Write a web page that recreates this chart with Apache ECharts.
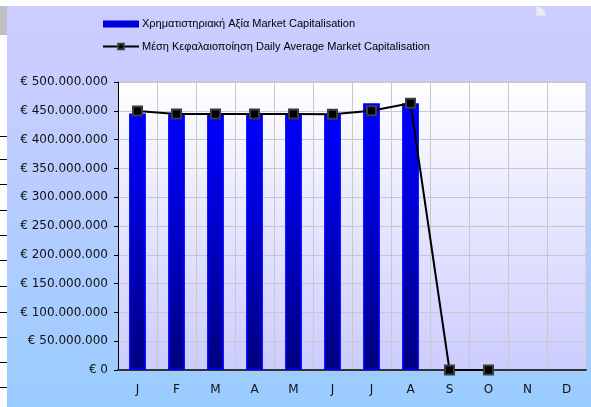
<!DOCTYPE html>
<html>
<head>
<meta charset="utf-8">
<script src="https://cdn.jsdelivr.net/npm/echarts@6/dist/echarts.min.js"></script>
<style>
  html, body { margin: 0; padding: 0; background: #fff; }
  #chart { width: 591px; height: 407px; }
</style>
</head>
<body>
<div id="chart"></div>
<script>
// month initials on the x axis
var months = ['J', 'F', 'M', 'A', 'M', 'J', 'J', 'A', 'S', 'O', 'N', 'D'];
// Χρηματιστηριακή Αξία (end of month), euros
var marketCap = [445500000, 444000000, 444000000, 444000000, 444000000, 443500000,
                 463000000, 463000000, null, null, null, null];
// Μέση Κεφαλαιοποίηση (daily average), euros
var dailyAvg = [449600000, 444400000, 444400000, 444400000, 444400000, 444000000,
                450000000, 463000000, 0, 0, null, null];

var barName = 'Χρηματιστηριακή Αξία Market Capitalisation';
var lineName = 'Μέση Κεφαλαιοποίηση Daily Average Market Capitalisation';

function euro(v) {
  return '€ ' + String(v).replace(/\B(?=(\d{3})+(?!\d))/g, '.');
}

var myChart = echarts.init(document.getElementById('chart'), null, { renderer: 'canvas' });

// bits of the host page showing round the chart frame
var pageLines = [136, 159, 184, 210, 235, 260, 286, 312, 337, 362, 387].map(function (y) {
  return {
    type: 'line', z: -90,
    shape: { x1: 0, y1: y + 0.5, x2: 7, y2: y + 0.5 },
    style: { stroke: '#000', lineWidth: 1 }
  };
});

option = {
  backgroundColor: '#ffffff',
  animation: false,
  textStyle: { fontFamily: 'DejaVu Sans' },
  graphic: [
    {
      type: 'rect', z: -100,
      shape: { x: 7, y: 6, width: 584, height: 401 },
      style: {
        fill: new echarts.graphic.LinearGradient(0, 0, 0, 1, [
          { offset: 0, color: '#ccccff' },
          { offset: 0.2, color: '#c8cdff' },
          { offset: 1, color: '#99ccff' }
        ])
      }
    },
    {
      type: 'rect', z: -90,
      shape: { x: 0, y: 6, width: 7, height: 29 },
      style: { fill: '#c0c0c0' }
    },
    {
      type: 'sector', z: -80,
      shape: { cx: 536, cy: 16, r: 10, startAngle: -Math.PI / 2, endAngle: 0 },
      style: { fill: '#ececf4', stroke: '#d8d8e0', lineWidth: 1 }
    }
  ].concat(pageLines),
  legend: {
    orient: 'vertical',
    left: 97,
    top: 12,
    itemWidth: 36,
    itemHeight: 7,
    itemGap: 8.5,
    textStyle: { fontFamily: 'Liberation Sans', fontSize: 11, color: '#000', lineHeight: 14, padding: [0, 0, 0, -2] },
    data: [
      { name: barName, icon: 'rect', itemStyle: { color: '#0000dd', borderWidth: 0 } },
      { name: lineName }
    ]
  },
  grid: {
    left: 118, right: 5, top: 82, bottom: 37,
    containLabel: false,
    show: true,
    borderColor: '#c8c8c8',
    borderWidth: 1,
    backgroundColor: new echarts.graphic.LinearGradient(0, 0, 0, 1, [
      { offset: 0, color: '#ffffff' },
      { offset: 1, color: '#ccccff' }
    ])
  },
  xAxis: {
    type: 'category',
    data: months,
    boundaryGap: true,
    axisLine: { lineStyle: { color: '#333', width: 2 } },
    axisTick: { inside: true, length: 4, lineStyle: { color: '#333' } },
    axisLabel: { color: '#111', fontSize: 12, margin: 14 },
    splitLine: { show: true, lineStyle: { color: '#c8c8c8', width: 1 } }
  },
  yAxis: {
    type: 'value',
    min: 0,
    max: 500000000,
    interval: 50000000,
    axisLine: { show: true, lineStyle: { color: '#000', width: 1 } },
    axisTick: { show: true, length: 4, lineStyle: { color: '#000' } },
    axisLabel: { color: '#111', fontSize: 12, margin: 10, formatter: euro },
    splitLine: { show: true, lineStyle: { color: '#c8c8c8', width: 1 } }
  },
  series: [
    {
      name: barName,
      type: 'bar',
      data: marketCap,
      barWidth: '43%',
      itemStyle: {
        color: new echarts.graphic.LinearGradient(0, 0, 0, 1, [
          { offset: 0, color: '#0000ff' },
          { offset: 0.35, color: '#0000d8' },
          { offset: 1, color: '#000080' }
        ]),
        borderColor: '#0000ff',
        borderWidth: 1.5
      }
    },
    {
      name: lineName,
      type: 'line',
      data: dailyAvg,
      symbol: 'rect',
      symbolSize: 9,
      connectNulls: false,
      lineStyle: { color: '#000', width: 2 },
      itemStyle: { color: '#000', borderColor: '#3c3c3c', borderWidth: 2 },
      z: 5
    }
  ]
};

myChart.setOption(option);
</script>
</body>
</html>
